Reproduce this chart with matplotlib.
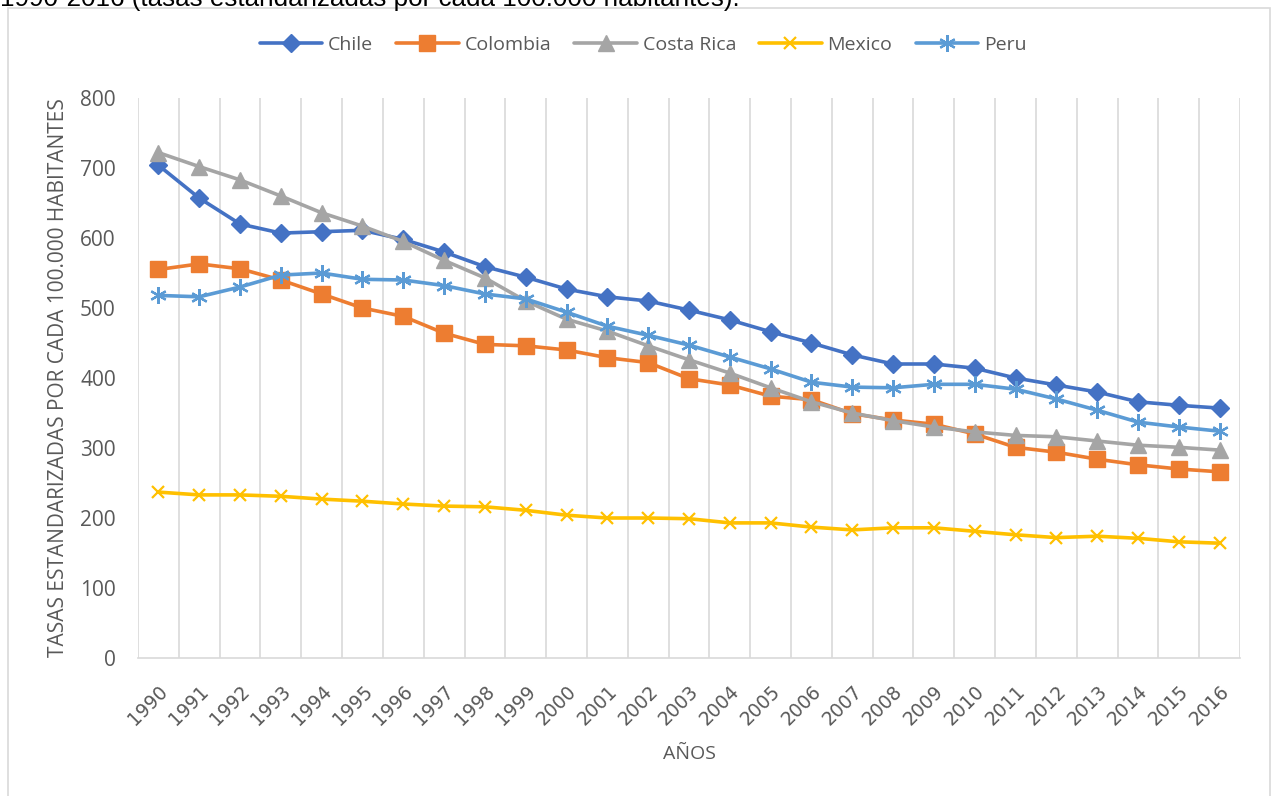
import matplotlib
matplotlib.use("Agg")
import matplotlib.pyplot as plt
from matplotlib.patches import Rectangle
from matplotlib.transforms import ScaledTranslation

years = [str(y) for y in range(1990, 2017)]

chile = [704, 657, 620, 607, 609, 611, 598, 580, 559, 544, 527, 516, 510, 497,
         483, 466, 450, 433, 420, 420, 414, 400, 390, 380, 366, 361, 357]
colombia = [555, 563, 556, 540, 520, 500, 488, 464, 448, 446, 440, 429, 422, 399,
            390, 374, 369, 349, 340, 334, 320, 301, 294, 284, 276, 270, 266]
costa_rica = [722, 702, 683, 660, 636, 617, 595, 568, 543, 510, 484, 467, 446, 426,
              407, 386, 366, 350, 339, 330, 323, 318, 316, 310, 304, 301, 297]
mexico = [237, 233, 233, 231, 227, 224, 220, 217, 216, 211, 204, 200, 200, 199,
          193, 193, 187, 183, 186, 186, 181, 176, 172, 174, 171, 166, 164]
peru = [518, 516, 530, 547, 550, 541, 540, 532, 520, 513, 494, 474, 461, 447,
        430, 413, 394, 387, 386, 391, 391, 384, 370, 354, 337, 330, 324]

series = [
    ("Chile", chile, "#4472C4", "D", 9),
    ("Colombia", colombia, "#ED7D31", "s", 11),
    ("Costa Rica", costa_rica, "#A5A5A5", "^", 11),
    ("Mexico", mexico, "#FFC000", "x", 9),
    ("Peru", peru, "#5B9BD5", (6, 2, 0), 12),
]

text_color = "#595959"
grid_color = "#D9D9D9"
plt.rcParams["font.family"] = ["Open Sans", "DejaVu Sans"]

fig = plt.figure(figsize=(12.71, 7.96), dpi=100)
fig.patches.append(Rectangle((8 / 1271, -0.01), 1262 / 1271, 1 - 8 / 796 + 0.01,
                             transform=fig.transFigure, fill=False,
                             edgecolor=grid_color, linewidth=1.2, zorder=0))
# page title running above the chart frame
fig.text(0.0, 1 - 6 / 796,
         "1990-2016 (tasas estandarizadas por cada 100.000 habitantes).",
         fontsize=18.7, color="black", va="baseline", ha="left",
         family="Liberation Sans")

ax = fig.add_axes([138 / 1271, 1 - 658 / 796, (1240 - 138) / 1271, (658 - 98) / 796])
x = list(range(len(years)))
for name, vals, color, marker, ms in series:
    mew = 1.6 if marker in ("x", (6, 2, 0)) else 1
    ax.plot(x, vals, color=color, linewidth=2.6, marker=marker, markersize=ms,
            markeredgewidth=mew, markeredgecolor=color, markerfacecolor=color,
            label=name, solid_capstyle="round", zorder=3)

ax.set_xlim(-0.5, len(years) - 0.5)
ax.set_ylim(0, 800)
ax.set_yticks(range(0, 801, 100))
ax.tick_params(axis="y", length=0, pad=16, labelsize=15, labelcolor=text_color)

ax.set_xticks(x)
ax.set_xticklabels(years, rotation=45, ha="right", rotation_mode="anchor",
                   fontsize=13.5, color=text_color, family="DejaVu Sans")
shift = ScaledTranslation(8 / 100, 0, fig.dpi_scale_trans)
for lbl in ax.get_xticklabels():
    lbl.set_transform(lbl.get_transform() + shift)
ax.tick_params(axis="x", length=0, pad=17)

for b in [i - 0.5 for i in range(len(years) + 1)]:
    ax.axvline(b, color=grid_color, linewidth=1.2, zorder=1)
for s in ["top", "right", "left"]:
    ax.spines[s].set_visible(False)
ax.spines["bottom"].set_color(grid_color)
ax.spines["bottom"].set_linewidth(1.2)

ax.set_xlabel("AÑOS", fontsize=14, color=text_color, labelpad=12)
ax.set_ylabel("TASAS ESTANDARIZADAS POR CADA 100.000 HABITANTES", fontsize=15,
              color=text_color, labelpad=8)

fig.legend(loc="center", bbox_to_anchor=(643 / 1271, 1 - 45 / 796), ncol=5,
           frameon=False, fontsize=14, labelcolor=text_color, handlelength=3.2,
           columnspacing=1.2, handletextpad=0.3)

fig.savefig("out.png", dpi=100)
